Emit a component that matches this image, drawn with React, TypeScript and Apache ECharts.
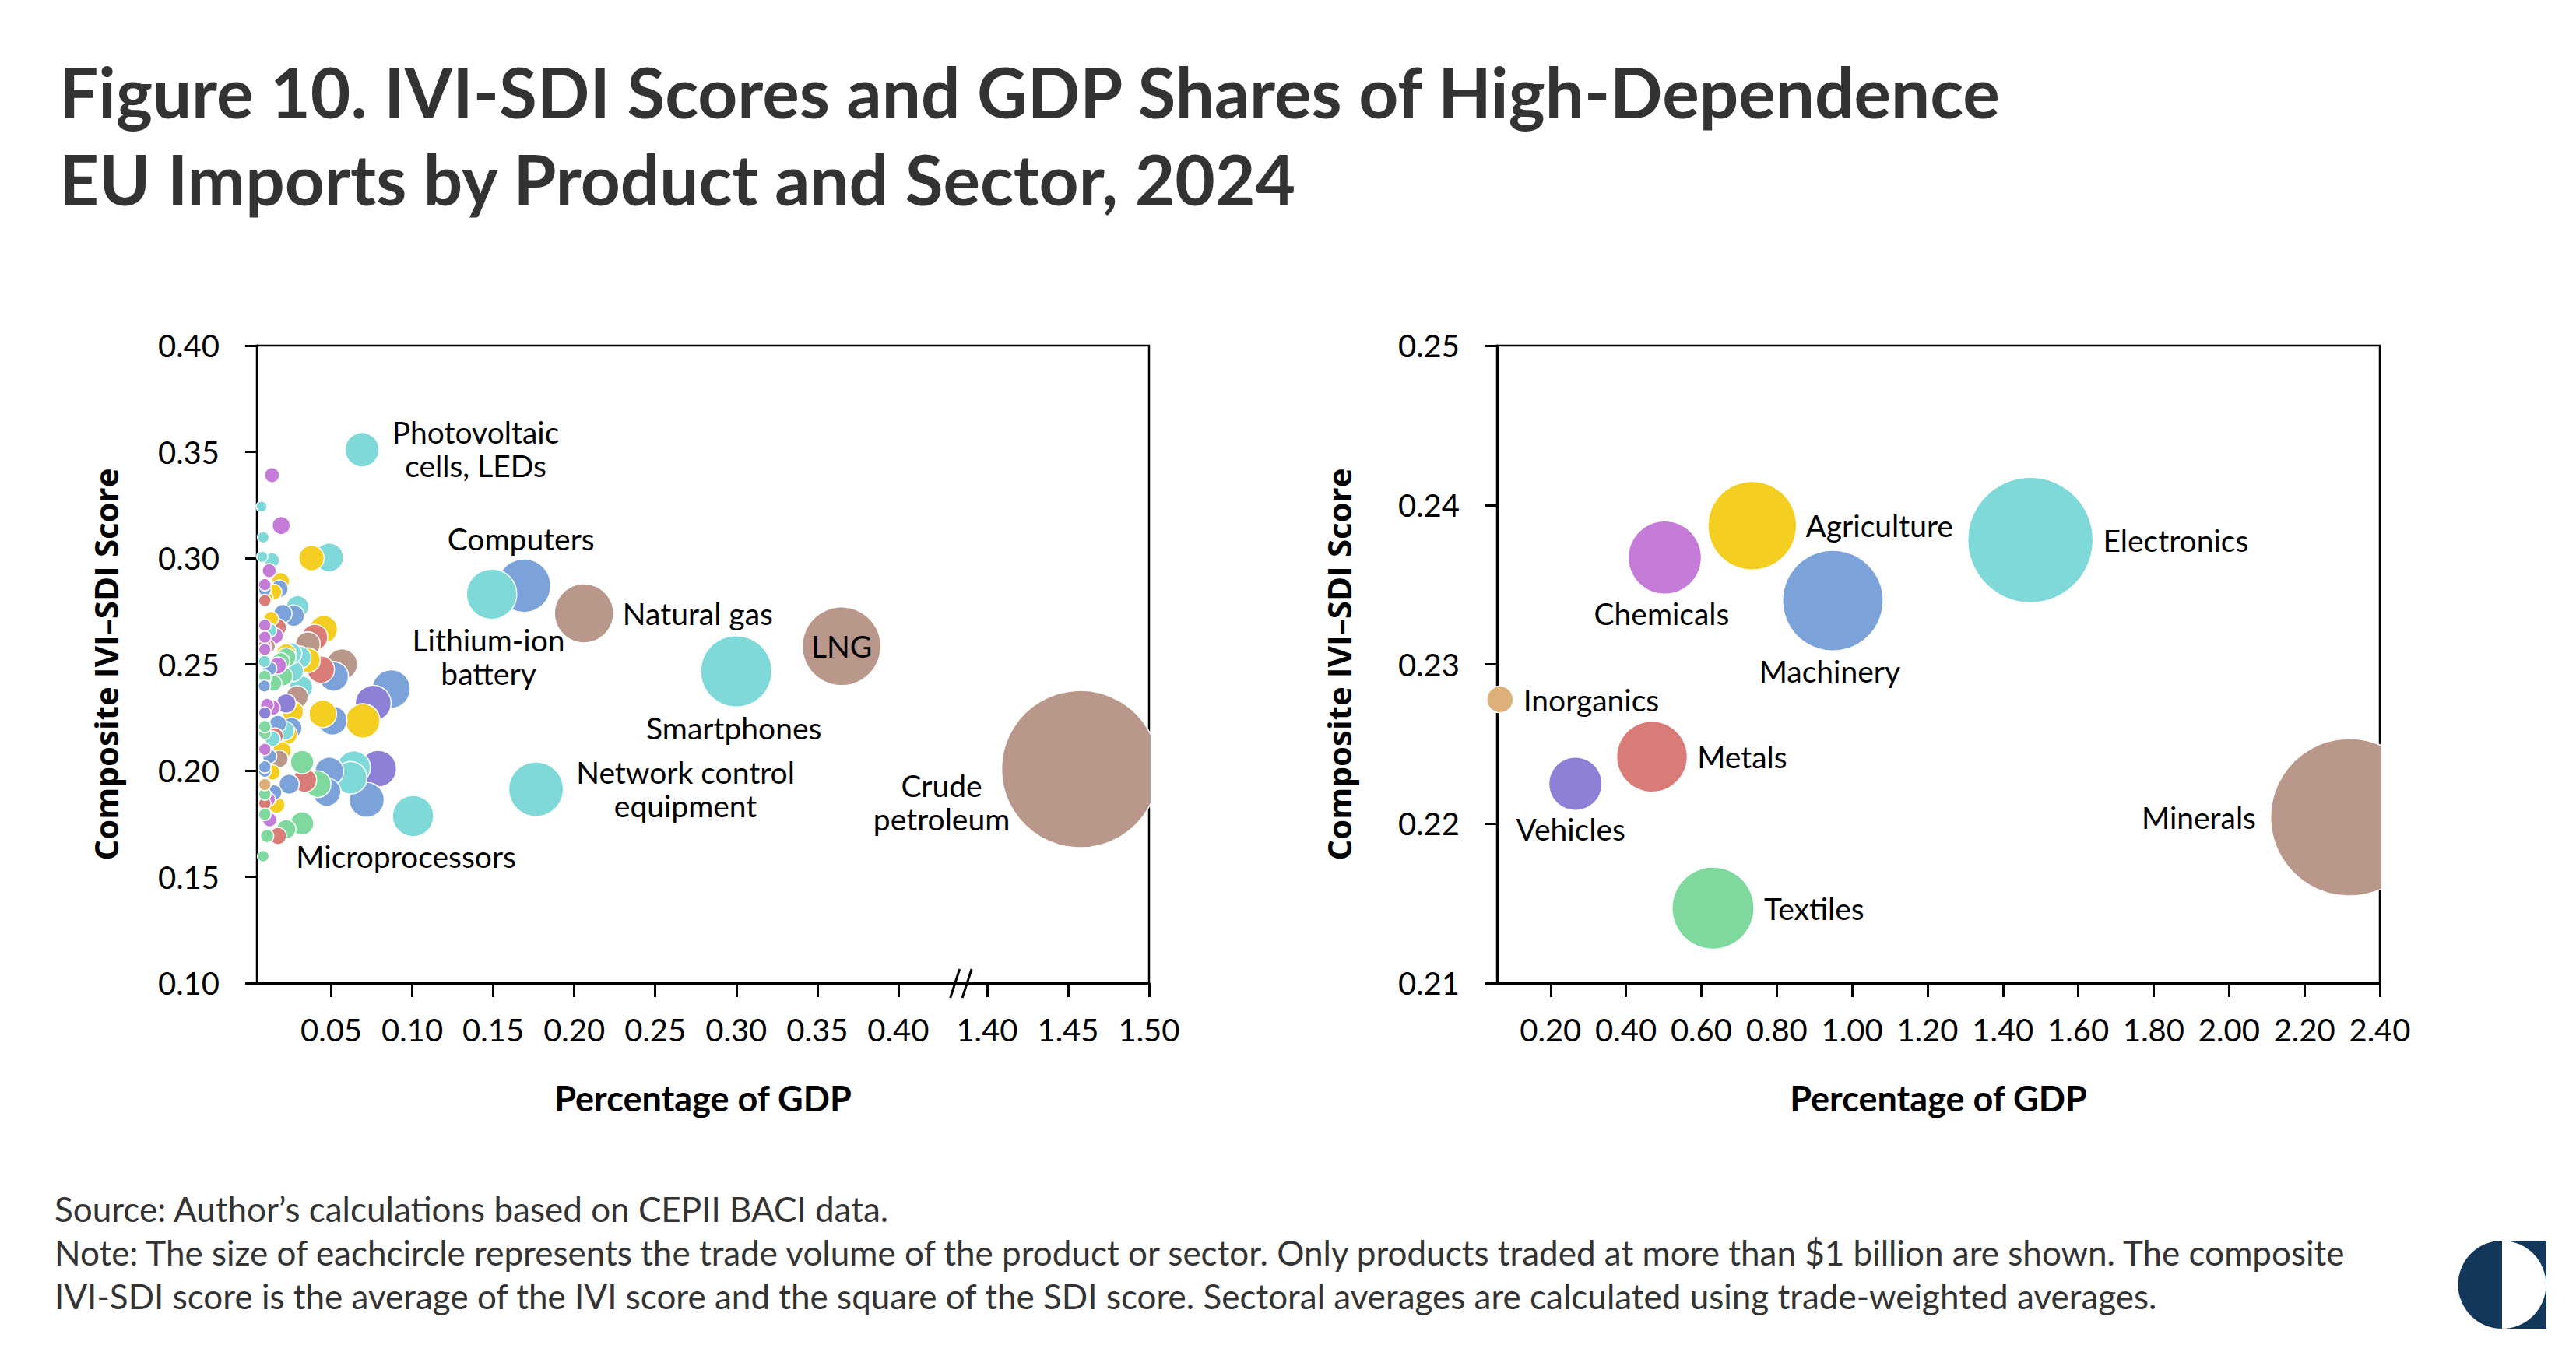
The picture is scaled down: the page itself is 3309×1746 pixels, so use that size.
import React, { useEffect, useRef } from "react";
import * as echarts from "echarts";

// ---------------- DATA ----------------
// Left panel: products (x = % of GDP, y = composite IVI-SDI score), grouped by sector
const ELECTRONICS_PRODUCTS: [number, number][] = [
  [0.007, 0.3242], [0.008, 0.3098], [0.0487, 0.3003], [0.0074, 0.3006], [0.0134, 0.299],
  [0.0292, 0.2771], [0.012, 0.266], [0.0305, 0.2532], [0.0255, 0.2551], [0.0087, 0.2513],
  [0.0263, 0.2468], [0.0314, 0.2392], [0.0213, 0.2188], [0.0138, 0.215], [0.064, 0.2015],
  [0.062, 0.1966], [0.009, 0.243],
];
const MACHINERY_PRODUCTS: [number, number][] = [
  [0.018, 0.2856], [0.009, 0.285], [0.0268, 0.2729], [0.0201, 0.2738], [0.0515, 0.2443],
  [0.012, 0.248], [0.0087, 0.2398], [0.087, 0.2384], [0.0507, 0.2236], [0.0255, 0.2201],
  [0.012, 0.2067], [0.009, 0.1997], [0.024, 0.1936], [0.0488, 0.1996], [0.0472, 0.1899],
  [0.0719, 0.1862], [0.0146, 0.1896], [0.0171, 0.222], [0.009, 0.2017],
];
const MINERALS_PRODUCTS: [number, number][] = [
  [0.0356, 0.2595], [0.0112, 0.2585], [0.0566, 0.25], [0.0289, 0.2347], [0.018, 0.2055],
];
const METALS_PRODUCTS: [number, number][] = [
  [0.009, 0.28], [0.0171, 0.2674], [0.0398, 0.2627], [0.009, 0.259], [0.0436, 0.2475],
  [0.0154, 0.2163], [0.0336, 0.1954], [0.009, 0.1845], [0.0171, 0.1692],
];
const VEHICLES_PRODUCTS: [number, number][] = [
  [0.0759, 0.2317], [0.0222, 0.2316], [0.009, 0.2271], [0.079, 0.2009],
];
const CHEMICALS_PRODUCTS: [number, number][] = [
  [0.0134, 0.339], [0.0191, 0.3153], [0.0117, 0.2941], [0.009, 0.2875], [0.009, 0.2684],
  [0.009, 0.2627], [0.0154, 0.2634], [0.009, 0.257], [0.0171, 0.2494], [0.0104, 0.2309],
  [0.0138, 0.2296], [0.009, 0.21], [0.0112, 0.1864], [0.012, 0.1768],
];
const AGRICULTURE_PRODUCTS: [number, number][] = [
  [0.0378, 0.3], [0.0188, 0.289], [0.0146, 0.284], [0.0101, 0.2812], [0.0129, 0.2714],
  [0.0453, 0.2665], [0.0356, 0.2519], [0.0222, 0.2551], [0.0695, 0.2234], [0.0448, 0.2267],
  [0.0263, 0.2277], [0.023, 0.2169], [0.0196, 0.2093], [0.0138, 0.1991], [0.0163, 0.1838],
];
const TEXTILES_PRODUCTS: [number, number][] = [
  [0.0222, 0.2532], [0.0188, 0.2513], [0.009, 0.2443], [0.0205, 0.2443], [0.0146, 0.2411],
  [0.009, 0.2176], [0.032, 0.204], [0.0416, 0.1936], [0.009, 0.1889], [0.009, 0.1794],
  [0.032, 0.1751], [0.0222, 0.1724], [0.0104, 0.1692], [0.008, 0.1597], [0.009, 0.2207],
];
const INORGANICS_PRODUCTS: [number, number][] = [[0.009, 0.1934]];

// Labelled products
const LABELED_NAMES = [
  "Photovoltaic\ncells, LEDs", "Computers", "Lithium-ion\nbattery", "Natural gas", "LNG",
  "Smartphones", "Network control\nequipment", "Microprocessors", "Crude\npetroleum",
];
const LABELED_SECTORS = [
  "Electronics", "Machinery", "Electronics", "Minerals", "Minerals",
  "Electronics", "Electronics", "Electronics", "Minerals",
];
const LABELED_X = [0.069, 0.169, 0.149, 0.206, 0.365, 0.3, 0.1764, 0.1005, 1.4575];
const LABELED_Y = [0.351, 0.287, 0.283, 0.274, 0.2585, 0.2467, 0.1912, 0.1786, 0.2007];

// Right panel: sectors
const SECTOR_NAMES = ["Minerals", "Electronics", "Machinery", "Agriculture", "Textiles", "Chemicals", "Metals", "Vehicles", "Inorganics"];
const SECTOR_X = [2.319, 1.473, 0.949, 0.735, 0.631, 0.503, 0.469, 0.266, 0.066];
const SECTOR_Y = [0.2204, 0.2378, 0.234, 0.2387, 0.2147, 0.2367, 0.2242, 0.2225, 0.2278];

// Axis ticks
const LEFT_X_TICKS = [0.05, 0.1, 0.15, 0.2, 0.25, 0.3, 0.35, 0.4, 1.4, 1.45, 1.5];
const RIGHT_X_TICKS = [0.2, 0.4, 0.6, 0.8, 1.0, 1.2, 1.4, 1.6, 1.8, 2.0, 2.2, 2.4];

const TITLE_LINES = [
  "Figure 10. IVI-SDI Scores and GDP Shares of High-Dependence",
  "EU Imports by Product and Sector, 2024",
];
const FOOTER_LINES = [
  "Source: Author\u2019s calculations based on CEPII BACI data.",
  "Note: The size of eachcircle represents the trade volume of the product or sector. Only products traded at more than $1 billion are shown. The composite",
  "IVI-SDI score is the average of the IVI score and the square of the SDI score. Sectoral averages are calculated using trade-weighted averages.",
];

// ---------------- STYLES ----------------
const SECTOR_COLOR: Record<string, string> = {
  Electronics: "#7ED9D8",
  Machinery: "#7BA3D9",
  Minerals: "#BA978B",
  Metals: "#D97B77",
  Vehicles: "#8C80D7",
  Chemicals: "#C47CD8",
  Agriculture: "#F5CE22",
  Textiles: "#7FD99F",
  Inorganics: "#DDB07A",
};

const LABEL_LAYOUT: Record<string, any> = {
  "Photovoltaic\ncells, LEDs": { position: "inside", offset: [146, -1] },
  Computers: { position: "inside", offset: [-4, -60] },
  "Lithium-ion\nbattery": { position: "inside", offset: [-4, 80] },
  "Natural gas": { position: "right", distance: 11 },
  LNG: { position: "inside", offset: [0, 0] },
  Smartphones: { position: "inside", offset: [-3, 72] },
  "Network control\nequipment": { position: "inside", offset: [192, -1] },
  Microprocessors: { position: "inside", offset: [-9, 52] },
  "Crude\npetroleum": { position: "inside", offset: [-178, 42] },
  Agriculture: { position: "right", distance: 11 },
  Chemicals: { position: "inside", offset: [-4, 72] },
  Machinery: { position: "inside", offset: [-4, 90] },
  Electronics: { position: "right", distance: 12 },
  Inorganics: { position: "right", distance: 12 },
  Metals: { position: "right", distance: 12 },
  Vehicles: { position: "inside", offset: [-6, 58] },
  Textiles: { position: "right", distance: 12 },
  Minerals: { position: "left", distance: 18 },
};

const BREAK_SHIFT = 0.9452;
const toAxisX = (v: number) => (v >= 1 ? v - BREAK_SHIFT : v);
const fromAxisX = (t: number) => (t > 0.42 ? t + BREAK_SHIFT : t);

const FONT = "Lato";
const LABEL_STYLE = { color: "#000", fontFamily: FONT, fontSize: 39, lineHeight: 43 };

function buildLeftData() {
  const groups: [string, [number, number][]][] = [
    ["Electronics", ELECTRONICS_PRODUCTS],
    ["Machinery", MACHINERY_PRODUCTS],
    ["Minerals", MINERALS_PRODUCTS],
    ["Metals", METALS_PRODUCTS],
    ["Vehicles", VEHICLES_PRODUCTS],
    ["Chemicals", CHEMICALS_PRODUCTS],
    ["Agriculture", AGRICULTURE_PRODUCTS],
    ["Textiles", TEXTILES_PRODUCTS],
    ["Inorganics", INORGANICS_PRODUCTS],
  ];
  const items: any[] = [];
  groups.forEach(([sector, pts]) => {
    pts.forEach(([x, y]) => {
      items.push({ value: [toAxisX(x), y, x], itemStyle: { color: SECTOR_COLOR[sector] } });
    });
  });
  LABELED_NAMES.forEach((name, i) => {
    const x = LABELED_X[i];
    items.push({
      name,
      value: [toAxisX(x), LABELED_Y[i], x],
      itemStyle: { color: SECTOR_COLOR[LABELED_SECTORS[i]] },
      label: { show: true, formatter: name, ...LABEL_STYLE, ...LABEL_LAYOUT[name] },
    });
  });
  items.sort((a, b) => b.value[2] - a.value[2]);
  return items;
}

function buildRightData() {
  return SECTOR_NAMES.map((name, i) => ({
    name,
    value: [SECTOR_X[i], SECTOR_Y[i], SECTOR_X[i]],
    itemStyle: { color: SECTOR_COLOR[name] },
    label: { show: true, formatter: name, ...LABEL_STYLE, ...LABEL_LAYOUT[name] },
  }));
}

const axisLineStyle = { color: "#000", width: 3 };
const tickLabelStyle = { color: "#000", fontFamily: FONT, fontSize: 40 };
const xNameStyle = { color: "#000", fontFamily: FONT, fontWeight: "bold" as const, fontSize: 45 };
const yNameStyle = { color: "#000", fontFamily: "Open Sans", fontWeight: "bold" as const, fontSize: 42 };

export default function App() {
  const ref = useRef<HTMLDivElement>(null);
  useEffect(() => {
    document.body.style.margin = "0";
    if (!ref.current) return;
    const chart = echarts.init(ref.current, undefined, { renderer: "svg" });
    const LG = { left: 330, top: 444, width: 1146, height: 819 };
    const RG = { left: 1923, top: 444, width: 1134, height: 819 };
    const navy = "#13375B";
    const option: any = {
      animation: false,
      backgroundColor: "#fff",
      grid: [
        { ...LG, show: true, borderColor: "#000", borderWidth: 2.5, containLabel: false },
        { ...RG, show: true, borderColor: "#000", borderWidth: 2.5, containLabel: false },
      ],
      xAxis: [
        {
          type: "value", gridIndex: 0, min: 0.0041, max: toAxisX(1.5),
          axisLine: { show: true, lineStyle: axisLineStyle },
          axisTick: { show: true, length: 18, lineStyle: axisLineStyle, customValues: LEFT_X_TICKS.map(toAxisX) },
          axisLabel: {
            ...tickLabelStyle, margin: 40, customValues: LEFT_X_TICKS.map(toAxisX),
            formatter: (v: number) => fromAxisX(v).toFixed(2),
          },
          splitLine: { show: false },
          name: "Percentage of GDP", nameLocation: "middle", nameGap: 125, nameTextStyle: xNameStyle,
        },
        {
          type: "value", gridIndex: 1, min: 0.058, max: 2.4,
          axisLine: { show: true, lineStyle: axisLineStyle },
          axisTick: { show: true, length: 18, lineStyle: axisLineStyle, customValues: RIGHT_X_TICKS },
          axisLabel: {
            ...tickLabelStyle, margin: 40, customValues: RIGHT_X_TICKS,
            formatter: (v: number) => v.toFixed(2),
          },
          splitLine: { show: false },
          name: "Percentage of GDP", nameLocation: "middle", nameGap: 125, nameTextStyle: xNameStyle,
        },
      ],
      yAxis: [
        {
          type: "value", gridIndex: 0, min: 0.1, max: 0.4, interval: 0.05,
          axisLine: { show: true, lineStyle: axisLineStyle },
          axisTick: { show: true, length: 15, lineStyle: axisLineStyle },
          axisLabel: { ...tickLabelStyle, margin: 48, formatter: (v: number) => v.toFixed(2) },
          splitLine: { show: false },
          name: "Composite IVI\u2013SDI Score", nameLocation: "middle", nameGap: 174, nameTextStyle: yNameStyle,
        },
        {
          type: "value", gridIndex: 1, min: 0.21, max: 0.25, interval: 0.01,
          axisLine: { show: true, lineStyle: axisLineStyle },
          axisTick: { show: true, length: 15, lineStyle: axisLineStyle },
          axisLabel: { ...tickLabelStyle, margin: 48, formatter: (v: number) => v.toFixed(2) },
          splitLine: { show: false },
          name: "Composite IVI\u2013SDI Score", nameLocation: "middle", nameGap: 183, nameTextStyle: yNameStyle,
        },
      ],
      series: [
        {
          type: "scatter", xAxisIndex: 0, yAxisIndex: 0, silent: true,
          symbolSize: (v: number[]) => 167.3 * Math.sqrt(v[2]),
          itemStyle: { borderColor: "#fff", borderWidth: 1.5, opacity: 1 },
          data: buildLeftData(),
          z: 3,
        },
        {
          type: "scatter", xAxisIndex: 1, yAxisIndex: 1, silent: true,
          symbolSize: (v: number[]) => 132.7 * Math.sqrt(v[2]),
          itemStyle: { borderColor: "#fff", borderWidth: 1.5, opacity: 1 },
          data: buildRightData(),
          z: 3,
        },
        {
          type: "custom", xAxisIndex: 0, yAxisIndex: 0, silent: true, z: 10,
          data: [[0.435, 0.1], [0.4424, 0.1]],
          renderItem: (params: any, api: any) => {
            const p = api.coord([api.value(0), api.value(1)]);
            return {
              type: "line",
              shape: { x1: p[0] - 6, y1: p[1] + 19, x2: p[0] + 6, y2: p[1] - 18 },
              style: { stroke: "#000", lineWidth: 3 },
            };
          },
        },
      ],
      graphic: [
        // clip bubbles overflowing the right frame
        { type: "rect", z: 100, shape: { x: LG.left + LG.width + 2, y: 860, width: 80, height: 260 }, style: { fill: "#fff" } },
        { type: "rect", z: 100, shape: { x: RG.left + RG.width + 2, y: 930, width: 80, height: 240 }, style: { fill: "#fff" } },
        ...TITLE_LINES.map((t, i) => ({
          type: "text", z: 100, x: 76, y: 117 + i * 112,
          style: { text: t, font: `bold 89px ${FONT}`, fill: "#333333", textVerticalAlign: "middle" },
        })),
        ...FOOTER_LINES.map((t, i) => ({
          type: "text", z: 100, x: 70, y: 1553 + i * 56,
          style: { text: t, font: `44px ${FONT}`, fill: "#333333", textVerticalAlign: "middle" },
        })),
        // logo
        { type: "rect", z: 100, shape: { x: 3214, y: 1594, width: 57, height: 113 }, style: { fill: navy } },
        { type: "sector", z: 101, shape: { cx: 3214, cy: 1650.5, r: 56.5, startAngle: -Math.PI / 2, endAngle: Math.PI / 2 }, style: { fill: "#fff" } },
        { type: "sector", z: 101, shape: { cx: 3214, cy: 1650.5, r: 56.5, startAngle: Math.PI / 2, endAngle: (3 * Math.PI) / 2 }, style: { fill: navy } },
      ],
    };
    chart.setOption(option);
    return () => chart.dispose();
  }, []);
  return <div ref={ref} style={{ width: 3309, height: 1746 }} />;
}
